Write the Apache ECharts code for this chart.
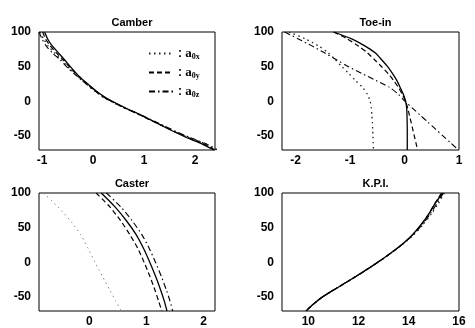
<!DOCTYPE html>
<html><head><meta charset="utf-8">
<script src="https://cdn.jsdelivr.net/npm/echarts@6/dist/echarts.min.js"></script>
<style>html,body{margin:0;padding:0;background:#fff}#c{width:475px;height:328px}</style>
</head><body><div id="c"></div>
<script>
// ---- titles & ticks ----
const panelTitles = ['Camber', 'Toe-in', 'Caster', 'K.P.I.'];
const yTicks = [-50, 0, 50, 100];
const camberXTicks = [-1, 0, 1, 2];
const toeXTicks = [-2, -1, 0, 1];
const casterXTicks = [0, 1, 2];
const kpiXTicks = [10, 12, 14, 16];
const legendNames = ['a0x', 'a0y', 'a0z'];

// ---- Camber (x = camber, y = wheel travel) ----
const camberTravel = [100, 90, 80, 70, 60, 48, 36, 26, 15, 5, -8, -20, -32, -43, -52, -60, -70];
const camberSolid  = [-0.95, -0.89, -0.80, -0.68, -0.56, -0.42, -0.27, -0.12, 0.06, 0.26, 0.60, 0.95, 1.27, 1.57, 1.83, 2.10, 2.37];
const camberA0x    = [-1.04, -0.97, -0.88, -0.76, -0.62, -0.47, -0.30, -0.15, 0.03, 0.22, 0.57, 0.93, 1.28, 1.60, 1.88, 2.16, 2.42];
const camberA0y    = [-0.99, -0.93, -0.84, -0.72, -0.59, -0.44, -0.28, -0.13, 0.05, 0.24, 0.58, 0.93, 1.27, 1.58, 1.86, 2.13, 2.39];
const camberA0z    = [-1.06, -1.00, -0.92, -0.80, -0.65, -0.49, -0.31, -0.15, 0.04, 0.23, 0.58, 0.95, 1.30, 1.62, 1.90, 2.18, 2.45];

// ---- Toe-in ----
const toeTravel = [100, 90, 80, 70, 60, 50, 40, 30, 20, 10, 0, -10, -20, -30, -40, -50, -60, -70];
const toeSolid  = [-1.30, -0.97, -0.73, -0.54, -0.42, -0.31, -0.22, -0.14, -0.08, -0.02, 0.02, 0.04, 0.045, 0.048, 0.05, 0.05, 0.05, 0.05];
const toeA0x    = [-2.12, -1.82, -1.58, -1.40, -1.27, -1.15, -1.02, -0.90, -0.77, -0.68, -0.63, -0.61, -0.60, -0.59, -0.585, -0.58, -0.575, -0.57];
const toeA0y    = [-1.30, -1.05, -0.85, -0.68, -0.55, -0.42, -0.30, -0.20, -0.11, -0.04, 0.02, 0.06, 0.09, 0.12, 0.15, 0.18, 0.21, 0.24];
const toeA0z    = [-2.20, -1.95, -1.70, -1.47, -1.25, -1.03, -0.78, -0.52, -0.27, -0.11, 0.01, 0.15, 0.29, 0.43, 0.57, 0.71, 0.85, 0.99];

// ---- Caster ----
const casterTravel = [100, 80, 60, 40, 20, 0, -20, -40, -55, -70];
const casterSolid  = [0.21, 0.45, 0.65, 0.82, 0.95, 1.06, 1.16, 1.25, 1.31, 1.36];
const casterA0x    = [-0.80, -0.55, -0.33, -0.15, -0.02, 0.10, 0.23, 0.36, 0.46, 0.56];
const casterA0y    = [0.12, 0.36, 0.55, 0.71, 0.85, 0.96, 1.06, 1.15, 1.21, 1.27];
const casterA0z    = [0.30, 0.55, 0.75, 0.92, 1.05, 1.16, 1.26, 1.35, 1.41, 1.46];

// ---- K.P.I. ----
const kpiTravel = [100, 85, 70, 55, 40, 25, 10, -5, -20, -35, -50, -60, -65, -70];
const kpiSolid  = [15.35, 15.05, 14.80, 14.50, 14.15, 13.70, 13.15, 12.55, 11.90, 11.22, 10.55, 10.20, 10.05, 9.90];
const kpiA0x    = [15.42, 15.18, 14.90, 14.58, 14.20, 13.72, 13.16, 12.55, 11.90, 11.22, 10.55, 10.20, 10.05, 9.90];
const kpiA0y    = [15.30, 15.04, 14.80, 14.51, 14.16, 13.71, 13.16, 12.56, 11.91, 11.23, 10.56, 10.21, 10.06, 9.91];
const kpiA0z    = [15.38, 15.12, 14.86, 14.55, 14.18, 13.71, 13.15, 12.55, 11.90, 11.22, 10.55, 10.20, 10.05, 9.90];

const panels = [
  {travel: camberTravel, sets: [camberSolid, camberA0x, camberA0y, camberA0z], ticks: camberXTicks, min: -1.06, max: 2.39},
  {travel: toeTravel, sets: [toeSolid, toeA0x, toeA0y, toeA0z], ticks: toeXTicks, min: -2.25, max: 1},
  {travel: casterTravel, sets: [casterSolid, casterA0x, casterA0y, casterA0z], ticks: casterXTicks, min: -0.88, max: 2.2},
  {travel: kpiTravel, sets: [kpiSolid, kpiA0x, kpiA0y, kpiA0z], ticks: kpiXTicks, min: 8.95, max: 16}
];

const gridBoxes = [
  {left: 39, top: 32, width: 176, height: 118},
  {left: 282, top: 32, width: 177, height: 118},
  {left: 39, top: 193, width: 176, height: 119},
  {left: 282, top: 193, width: 177, height: 119}
];

const styles = [
  {type: 'solid', width: 1.3, color: '#000'},
  {type: [1.5, 3.5], width: 1.3, color: '#222'},
  {type: [5, 3], width: 1.2, color: '#000'},
  {type: [6, 3, 1.5, 3], width: 1.1, color: '#000'}
];

const labelFont = {fontFamily: 'Liberation Sans', fontWeight: 'bold', fontSize: 12, color: '#000'};

const grids = gridBoxes.map(b => Object.assign({show: true, borderColor: '#000', borderWidth: 1, backgroundColor: '#fff'}, b));
const xAxes = panels.map((p, i) => ({
  type: 'value', gridIndex: i, min: p.min, max: p.max,
  axisLine: {show: false}, splitLine: {show: false}, axisTick: {show: false},
  axisLabel: Object.assign({margin: 5, customValues: p.ticks, showMinLabel: true, showMaxLabel: true}, labelFont)
}));
const yAxes = panels.map((p, i) => ({
  type: 'value', gridIndex: i, min: -70, max: 100,
  axisLine: {show: false}, splitLine: {show: false}, axisTick: {show: false},
  axisLabel: Object.assign({margin: 8, customValues: yTicks, showMinLabel: true, showMaxLabel: true}, labelFont)
}));

const series = [];
panels.forEach((p, i) => {
  p.sets.forEach((xs, k) => {
    series.push({
      type: 'line',
      name: (i === 0 && k > 0) ? legendNames[k - 1] : ('p' + i + 's' + k),
      xAxisIndex: i, yAxisIndex: i,
      data: xs.map((x, j) => [x, p.travel[j]]),
      symbol: 'none', showSymbol: false, smooth: 0.25, clip: true,
      lineStyle: Object.assign({}, styles[k], i === 2 && k === 1 ? {color: '#888', width: 1} : {}),
      color: '#000', animation: false, silent: true, z: 4 - k
    });
  });
});

const titles = panelTitles.map((t, i) => ({
  text: t, left: gridBoxes[i].left + gridBoxes[i].width / 2, top: gridBoxes[i].top - 20,
  textAlign: 'center',
  textStyle: {fontFamily: 'Liberation Sans', fontWeight: 'bold', fontSize: 11, color: '#000'}
}));

const chart = echarts.init(document.getElementById('c'), null, {renderer: 'canvas'});
chart.setOption({
  backgroundColor: '#fff',
  animation: false,
  title: titles,
  grid: grids,
  xAxis: xAxes,
  yAxis: yAxes,
  legend: {
    data: legendNames, orient: 'vertical', left: 143, top: 42,
    itemWidth: 24, itemHeight: 12, itemGap: 5, selectedMode: false,
    itemStyle: {opacity: 0},
    formatter: n => '{c|: }{a|a}{s|' + n.slice(1) + '}',
    textStyle: {
      color: '#000',
      rich: {
        c: {fontFamily: 'Liberation Sans', fontWeight: 'bold', fontSize: 12, color: '#000'},
        a: {fontFamily: 'Liberation Serif', fontWeight: 'bold', fontSize: 13, color: '#000'},
        s: {fontFamily: 'Liberation Serif', fontWeight: 'bold', fontSize: 8, color: '#000', padding: [7, 0, 0, 0]}
      }
    }
  },
  series: series
});
</script></body></html>
